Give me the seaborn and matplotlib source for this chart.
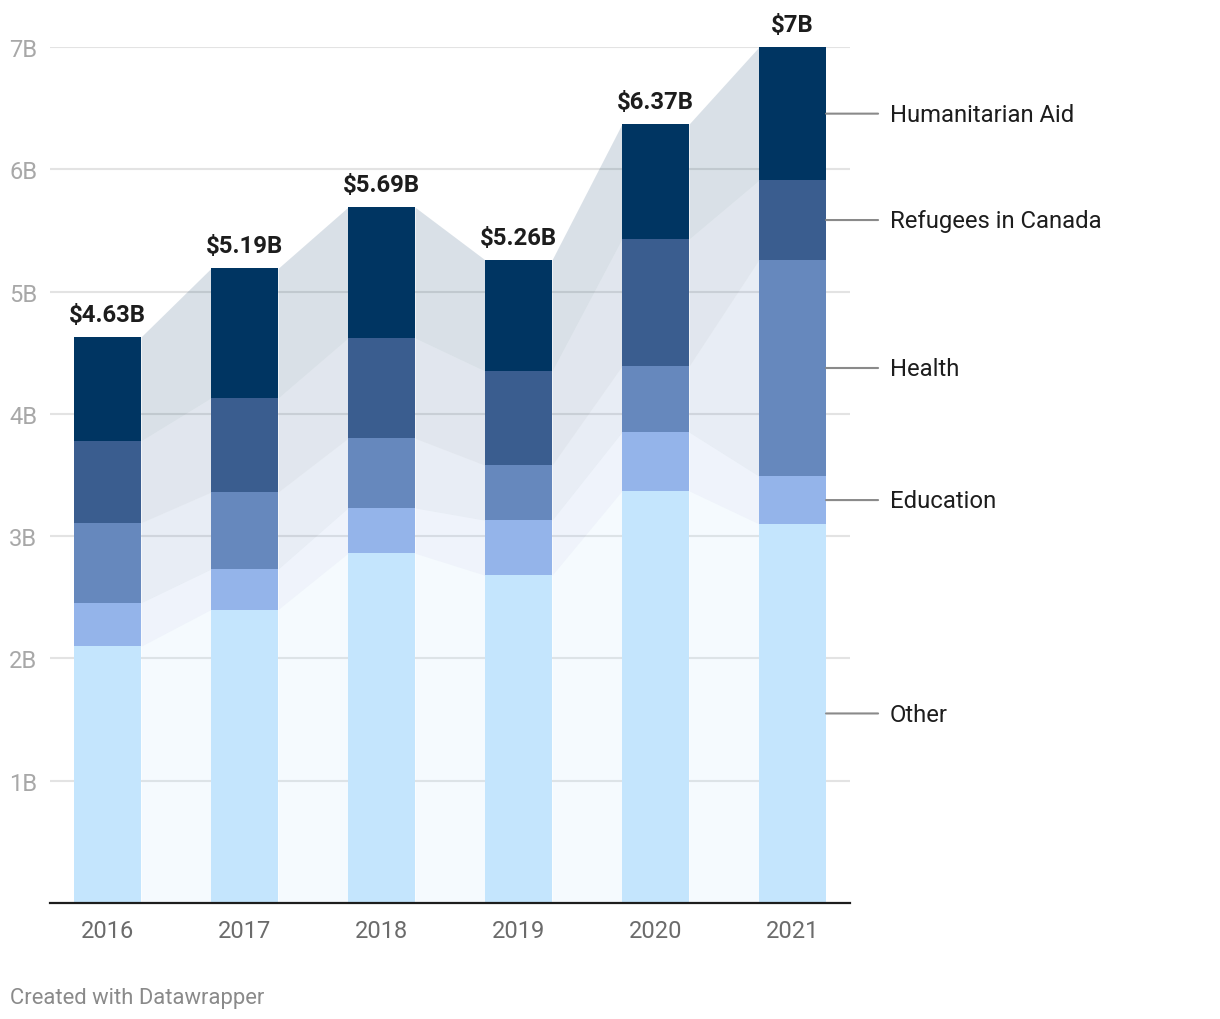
import matplotlib
matplotlib.use("Agg")
import matplotlib.pyplot as plt
import seaborn as sns
import numpy as np
import pandas as pd

years = ["2016", "2017", "2018", "2019", "2020", "2021"]
categories = ["Other", "Education", "Health", "Refugees in Canada", "Humanitarian Aid"]
other = [2.10, 2.40, 2.86, 2.68, 3.37, 3.10]
education = [0.355, 0.33, 0.37, 0.45, 0.48, 0.39]
health = [0.655, 0.63, 0.57, 0.45, 0.54, 1.77]
refugees = [0.67, 0.77, 0.82, 0.77, 1.04, 0.65]
humanitarian = [0.85, 1.06, 1.07, 0.91, 0.94, 1.09]
total_labels = ["$4.63B", "$5.19B", "$5.69B", "$5.26B", "$6.37B", "$7B"]
ytick_vals = [1, 2, 3, 4, 5, 6, 7]
ytick_labels = ["1B", "2B", "3B", "4B", "5B", "6B", "7B"]
colors = ["#c4e5fd", "#94b4ea", "#6688bd", "#3a5d8f", "#003562"]

series = [other, education, health, refugees, humanitarian]

sns.set_theme(style="white")
plt.rcParams["font.family"] = ["Roboto", "DejaVu Sans"]

fig = plt.figure(figsize=(12.2, 10.2), dpi=100)
ax = fig.add_axes([50 / 1220, 1 - 904 / 1020, 800 / 1220, (904 - 48) / 1020])

vals = np.array(series)
cum = np.cumsum(vals, axis=0)
bottoms = np.vstack([np.zeros(vals.shape[1]), cum[:-1]])

width = 0.49
# stacked bars drawn from the top cumulative layer down
for k in range(len(categories) - 1, -1, -1):
    df = pd.DataFrame({"year": years, "value": cum[k]})
    sns.barplot(data=df, x="year", y="value", color=colors[k], width=width,
                saturation=1, ax=ax, zorder=3, linewidth=0)

# connector bands between bars
n = len(years)
for k in range(len(categories)):
    for i in range(n - 1):
        xs = [i + width / 2, i + 1 - width / 2]
        ax.fill_between(xs, [bottoms[k, i], bottoms[k, i + 1]],
                        [cum[k, i], cum[k, i + 1]], color=colors[k],
                        alpha=0.15 if k > 0 else 0.17, linewidth=0, zorder=2)

# total labels
for i in range(n):
    ax.annotate(total_labels[i], (i, cum[-1, i]), xytext=(0, 8),
                textcoords="offset points", ha="center", va="bottom",
                fontsize=17.2, fontweight="bold", color="#1d1d1d",
                annotation_clip=False)

# direct labels at the right
last = n - 1
for k in range(len(categories)):
    ymid = (bottoms[k, last] + cum[k, last]) / 2
    x0 = last + width / 2
    ax.annotate("", xy=(x0, ymid), xytext=(x0 + 0.38, ymid),
                arrowprops=dict(arrowstyle="-", color="#8a8a8a", lw=1.5,
                                shrinkA=0, shrinkB=0), annotation_clip=False)
    ax.annotate(categories[k], (x0 + 0.38, ymid), xytext=(8.5, -0.5),
                textcoords="offset points", ha="left", va="center",
                fontsize=17.2, color="#1d1d1d", annotation_clip=False)

ax.set_xlim(-0.42, n - 1 + 0.42)
ax.set_ylim(0, 7)
ax.set_yticks(ytick_vals)
ax.set_yticklabels(ytick_labels)
ax.yaxis.grid(True, color="#e3e3e3", linewidth=1.5, zorder=0)
ax.set_axisbelow(True)
ax.tick_params(axis="y", length=0, pad=9, labelsize=17, labelcolor="#a8a8a8")
ax.tick_params(axis="x", length=0, pad=11.5, labelsize=17, labelcolor="#6b6b6b")
ax.set_xlabel("")
ax.set_ylabel("")
for s in ["top", "right", "left"]:
    ax.spines[s].set_visible(False)
ax.spines["bottom"].set_color("#1d1d1d")
ax.spines["bottom"].set_linewidth(1.6)
ax.spines["bottom"].set_zorder(5)
ax.set_facecolor("white")

fig.text(10 / 1220, 1 - 999 / 1020, "Created with Datawrapper", ha="left",
         va="center", fontsize=15.8, color="#8a8a8a")

fig.savefig("out.png", dpi=100, facecolor="white")
